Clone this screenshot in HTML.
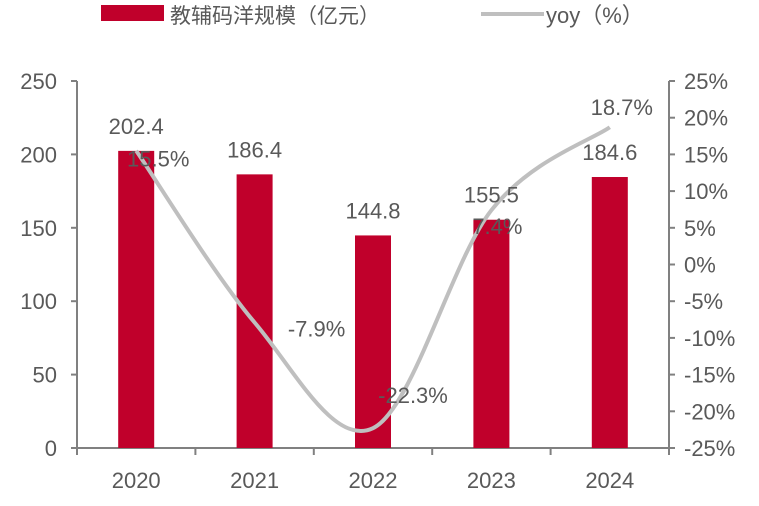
<!DOCTYPE html>
<html><head><meta charset="utf-8"><style>
body{margin:0;background:#fff;}
svg text{font-family:"Liberation Sans","Noto Sans CJK SC",sans-serif;fill:#595959;}
</style></head><body>
<svg id="chart" width="759" height="501">
<g>
<rect x="101" y="5" width="63" height="16" fill="#C0002B"/>
<text x="170" y="23" font-size="21">教辅码洋规模（亿元）</text>
<line x1="481" y1="14" x2="544" y2="14" stroke="#BFBFBF" stroke-width="4"/>
<text x="546" y="23" font-size="22">yoy（%）</text>
</g>
<g id="axes"></g><g id="bars"></g><g id="line"></g><g id="labels"></g>
</svg>
<script>
const categories=["2020","2021","2022","2023","2024"];
const sizes=[202.4,186.4,144.8,155.5,184.6];
const yoy=[15.5,-7.9,-22.3,7.4,18.7];
const leftTicks=[0,50,100,150,200,250];
const rightTicks=[-25,-20,-15,-10,-5,0,5,10,15,20,25];
const NS="http://www.w3.org/2000/svg";
const X0=77,X1=669,Y0=448,Y1=81;
const step=(X1-X0)/categories.length;
const xc=i=>X0+step*(i+0.5);
const yL=v=>Y0-(v/250)*(Y0-Y1);
const yR=v=>Y0-((v+25)/50)*(Y0-Y1);
function mk(tag,attrs,parent){const e=document.createElementNS(NS,tag);for(const k in attrs)e.setAttribute(k,attrs[k]);parent.appendChild(e);return e;}
const axes=document.getElementById('axes'),bars=document.getElementById('bars'),line=document.getElementById('line'),labels=document.getElementById('labels');
const ac="#808080";
let a=mk('line',{x1:X0,y1:Y1,x2:X0,y2:Y0,stroke:ac,'stroke-width':2},axes);


a=mk('line',{x1:X1,y1:Y1,x2:X1,y2:Y0,stroke:ac,'stroke-width':2},axes);


a=mk('line',{x1:X0,y1:Y0,x2:X1,y2:Y0,stroke:ac,'stroke-width':2},axes);


leftTicks.forEach(v=>{const y=yL(v);mk('line',{x1:X0-6,y1:y,x2:X0,y2:y,stroke:ac,'stroke-width':2},axes);
const t=mk('text',{x:X0-20,y:y+8,'font-size':22,'text-anchor':'end'},axes);t.textContent=v;

});
rightTicks.forEach(v=>{const y=yR(v);mk('line',{x1:X1,y1:y,x2:X1+6,y2:y,stroke:ac,'stroke-width':2},axes);
const t=mk('text',{x:X1+15,y:y+8,'font-size':22},axes);t.textContent=v+"%";

});
for(let i=0;i<=categories.length;i++){const x=X0+step*i;mk('line',{x1:x,y1:Y0,x2:x,y2:Y0+7,stroke:ac,'stroke-width':2},axes);}
const dxs=[22,62,40,6,12],dys=[16,14,-25,24,-12];
categories.forEach((c,i)=>{const t=mk('text',{x:xc(i),y:Y0+40,'font-size':22,'text-anchor':'middle'},axes);t.textContent=c;


const b=mk('rect',{x:xc(i)-18,y:yL(sizes[i]),width:36,height:Y0-yL(sizes[i]),fill:'#C0002B'},bars);


const l=mk('text',{x:xc(i),y:yL(sizes[i])-17,'font-size':22,'text-anchor':'middle'},labels);l.textContent=sizes[i].toFixed(1);


const py=yR(yoy[i]);
const yl=mk('text',{x:xc(i)+dxs[i],y:py+dys[i],'font-size':22,'text-anchor':'middle'},labels);yl.textContent=yoy[i].toFixed(1)+"%";

});
const pts=yoy.map((v,i)=>[xc(i),yR(v)]);
let d="M"+pts[0][0]+","+pts[0][1];
for(let i=0;i<pts.length-1;i++){const p0=pts[Math.max(0,i-1)],p1=pts[i],p2=pts[i+1],p3=pts[Math.min(pts.length-1,i+2)];
const c1=[p1[0]+(p2[0]-p0[0])/6,p1[1]+(p2[1]-p0[1])/6],c2=[p2[0]-(p3[0]-p1[0])/6,p2[1]-(p3[1]-p1[1])/6];
d+=` C${c1[0]},${c1[1]} ${c2[0]},${c2[1]} ${p2[0]},${p2[1]}`;}
const path=mk('path',{d:d,fill:'none',stroke:'#BFBFBF','stroke-width':4},line);


</script>
</body></html>
